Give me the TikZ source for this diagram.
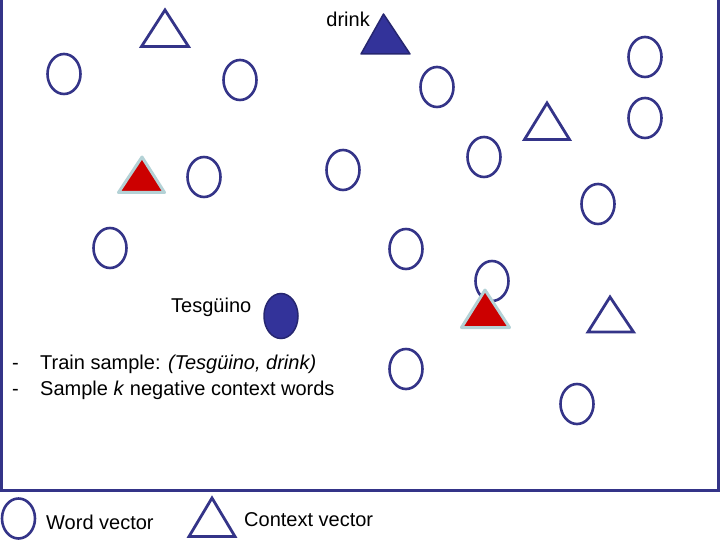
\documentclass[tikz,border=0pt]{standalone}
\usepackage{fontspec}
\setmainfont{Liberation Sans}
\usetikzlibrary{shapes.geometric}
\definecolor{navy}{HTML}{343488}
\definecolor{fillblue}{HTML}{33339A}
\definecolor{darkrim}{HTML}{262670}
\definecolor{redfill}{HTML}{CC0000}
\definecolor{rim}{HTML}{B4D2D6}
\tikzset{
  wordvec/.style={ellipse,draw=navy,line width=2.6pt,minimum width=33pt,minimum height=40pt,inner sep=0pt},
  ctxvec/.style={draw=navy,line width=2.8pt,line join=miter},
  label/.style={font=\fontsize{20pt}{24pt}\selectfont,inner sep=0pt,anchor=base west},
}
\begin{document}
\begin{tikzpicture}[x=1pt,y=-1pt]
\useasboundingbox (0,0) rectangle (720,540);
\begin{scope}
\clip (0,0) rectangle (720,540);
% frame
\draw[navy,line width=3pt] (1.5,-10) -- (1.5,490.5) -- (718.5,490.5) -- (718.5,-10);

% word vectors
\node[wordvec] (w1) at (64,74) {};
\node[wordvec] (w2) at (240,80) {};
\node[wordvec] (w3) at (437,87) {};
\node[wordvec] (w4) at (645,57) {};
\node[wordvec] (w5) at (645,118) {};
\node[wordvec] (w6) at (204,177) {};
\node[wordvec] (w7) at (343,170) {};
\node[wordvec] (w8) at (484,157) {};
\node[wordvec] (w9) at (598,204) {};
\node[wordvec] (w10) at (110,248) {};
\node[wordvec] (w11) at (406,249) {};
\node[wordvec] (w12) at (492,281) {};
\node[wordvec] (w13) at (406,369) {};
\node[wordvec] (w14) at (577,404) {};

% context vectors (outline)
\draw[ctxvec] (141.5,46.5) -- (188.5,46.5) -- (165,10) -- cycle;
\draw[ctxvec] (524.5,139.5) -- (569.5,139.5) -- (547,103) -- cycle;
\draw[ctxvec] (588,332) -- (633.5,332) -- (610,297) -- cycle;

% red negative context triangles
\draw[fill=redfill,draw=rim,line width=3pt,line join=round] (118.5,192.5) -- (164.5,192.5) -- (142,157) -- cycle;
\draw[fill=redfill,draw=rim,line width=3pt,line join=round] (461.5,327.5) -- (509.5,327.5) -- (485,290) -- cycle;

% drink (filled context)
\draw[fill=fillblue,draw=darkrim,line width=1.5pt,line join=round] (361,54) -- (410,54) -- (383.5,14) -- cycle;
\node[label,anchor=base east] (drink) at (370,27) {drink};

% Tesguino (filled word)
\node[ellipse,fill=fillblue,draw=darkrim,line width=1.5pt,minimum width=34pt,minimum height=45pt,inner sep=0pt] (tes) at (281,316) {};
\node[label] (teslab) at (171,312) {Tesgüino};

% list
\node[label] (d1) at (12,369) {-};
\node[label] (l1) at (40,369) {Train sample: \textit{(Tesgüino, drink)}};
\node[label] (d2) at (12,395) {-};
\node[label] (l2) at (40,395) {Sample \textit{k} negative context words};

% legend
\node[wordvec] (legw) at (18.5,518.5) {};
\node[label] (legwl) at (46,529) {Word vector};
\draw[ctxvec] (189,536.5) -- (235,536.5) -- (212,498) -- cycle;
\node[label] (legcl) at (244,526) {Context vector};
\end{scope}
\end{tikzpicture}
\end{document}
